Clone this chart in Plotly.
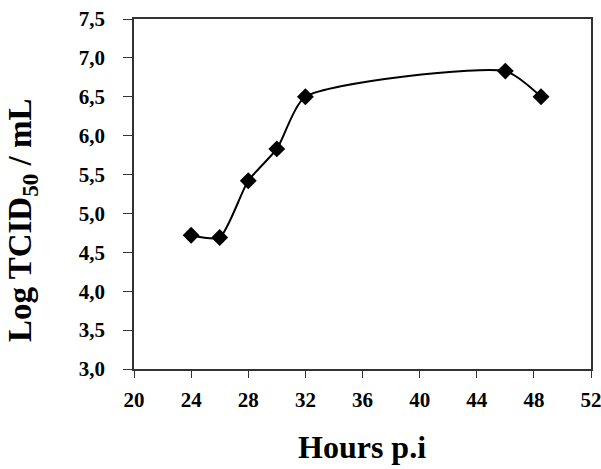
import plotly.graph_objects as go

hours = [24, 26, 28, 30, 32, 46, 48.5]
log_tcid50 = [4.72, 4.69, 5.42, 5.83, 6.50, 6.83, 6.50]

x_ticks = [20, 24, 28, 32, 36, 40, 44, 48, 52]
y_ticks = [3.0, 3.5, 4.0, 4.5, 5.0, 5.5, 6.0, 6.5, 7.0, 7.5]
y_tick_labels = ["3,0", "3,5", "4,0", "4,5", "5,0", "5,5", "6,0", "6,5", "7,0", "7,5"]

font_family = "Liberation Serif"

fig = go.Figure()
fig.add_trace(go.Scatter(
    x=hours, y=log_tcid50, mode="lines+markers",
    line=dict(color="black", width=2, shape="spline", smoothing=0.6),
    marker=dict(symbol="diamond", size=13, color="black"),
    showlegend=False, cliponaxis=False,
))

axis_common = dict(
    showgrid=False, zeroline=False, showline=True, linecolor="#333",
    linewidth=1.5, mirror=True, ticks="outside", tickcolor="#333",
    tickwidth=1.2, automargin=False, ticklabeloverflow="allow",
    tickfont=dict(family=font_family, size=21, color="black", weight="bold"),
)

fig.update_xaxes(range=[20, 52], tickvals=x_ticks, ticklen=7,
                 ticklabelstandoff=4, **axis_common)
fig.update_yaxes(range=[3.0, 7.5], tickvals=y_ticks, ticktext=y_tick_labels,
                 ticklen=9, ticklabelstandoff=14, **axis_common)

pl, pr, pt, pb = 134, 601 - 10, 19, 469 - 100
W, H = pr - pl, pb - pt

fig.update_layout(
    width=601, height=469,
    margin=dict(l=pl, r=601 - pr, t=pt, b=469 - pb),
    plot_bgcolor="white", paper_bgcolor="white",
    annotations=[
        dict(text="<b>Hours p.i</b>", x=(362 - pl) / W, xref="paper",
             y=(pb - 447) / H, yref="paper", showarrow=False,
             font=dict(family=font_family, size=32, color="black"),
             xanchor="center", yanchor="middle"),
        dict(text="<b>Log TCID<sub>50</sub> / mL</b>", x=(22 - pl) / W, xref="paper",
             y=(pb - 221) / H, yref="paper", showarrow=False, textangle=-90,
             xanchor="center", yanchor="middle",
             font=dict(family=font_family, size=33, color="black")),
    ],
)

fig.write_html(
    "out.html",
    config={"displayModeBar": False},
    post_script="document.body.style.margin='0';document.body.style.overflow='hidden';",
)
